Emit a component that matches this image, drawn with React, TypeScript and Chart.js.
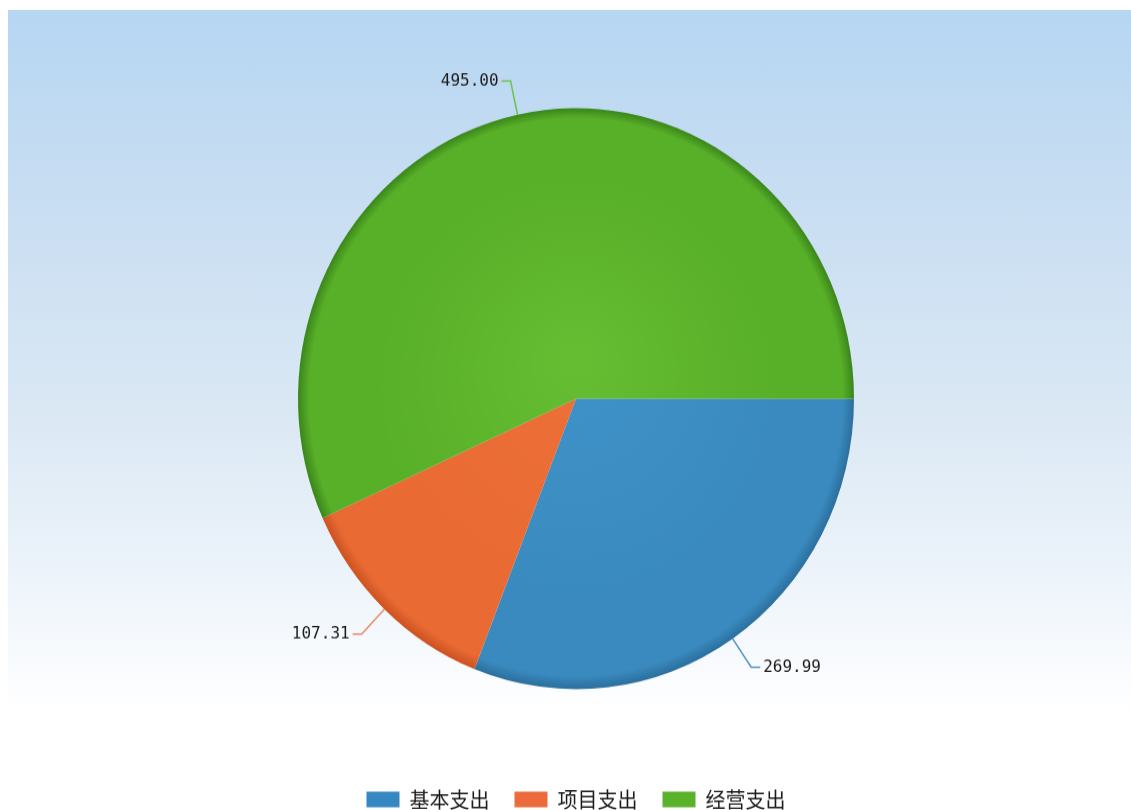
import React, { useEffect, useRef } from "react";
import { Chart, registerables } from "chart.js";

Chart.register(...registerables);

const categories = ["基本支出", "项目支出", "经营支出"];
const values = [269.99, 107.31, 495.0];
const valueLabels = ["269.99", "107.31", "495.00"];
const lightColors = ["#3f93c8", "#ee7039", "#66be33"];
const baseColors = ["#3a8abf", "#e96a33", "#58af28"];
const edgeColors = ["#2b6f9d", "#cc5220", "#3a861b"];
const legendColors = ["#3587c1", "#ec6b3a", "#5ab12a"];
const lineColors = ["#4f93bf", "#e98a66", "#6cc24a"];

const labelPlugin = {
  id: "sliceLabels",
  afterDatasetsDraw(chart: any) {
    const ctx = chart.ctx;
    const meta = chart.getDatasetMeta(0);
    ctx.save();
    meta.data.forEach((arc: any, i: number) => {
      const { x, y, startAngle, endAngle, outerRadius } = arc.getProps(
        ["x", "y", "startAngle", "endAngle", "outerRadius"],
        true
      );
      const mid = (startAngle + endAngle) / 2;
      const c = Math.cos(mid);
      const s = Math.sin(mid);
      const p0x = x + outerRadius * c;
      const p0y = y + outerRadius * s;
      const p1x = x + (outerRadius + 33) * c;
      const p1y = y + (outerRadius + 33) * s;
      const dir = c >= 0 ? 1 : -1;
      const p2x = p1x + dir * 9;
      ctx.strokeStyle = lineColors[i];
      ctx.lineWidth = 1.5;
      ctx.beginPath();
      ctx.moveTo(p0x, p0y);
      ctx.lineTo(p1x, p1y);
      ctx.lineTo(p2x, p1y);
      ctx.stroke();
      ctx.fillStyle = "#1a1a1a";
      ctx.font = "16px 'DejaVu Sans Mono', 'Liberation Mono', monospace";
      ctx.textBaseline = "middle";
      ctx.textAlign = dir > 0 ? "left" : "right";
      ctx.fillText(valueLabels[i], p2x + dir * 3, p1y);
    });
    ctx.restore();
  },
};

export default function App() {
  const canvasRef = useRef<HTMLCanvasElement | null>(null);

  useEffect(() => {
    if (!canvasRef.current) return;
    const chart = new Chart(canvasRef.current, {
      type: "pie",
      data: {
        labels: categories,
        datasets: [
          {
            data: values,
            borderWidth: 0,
            radius: 278,
            backgroundColor: (context: any) => {
              const i = context.dataIndex;
              const ch = context.chart;
              const area = ch.chartArea;
              if (!area || context.type !== "data") return baseColors[i];
              const cx = (area.left + area.right) / 2;
              const cy = (area.top + area.bottom) / 2;
              const r = 278;
              const g = ch.ctx.createRadialGradient(cx, cy - 40, 0, cx, cy, r);
              g.addColorStop(0, lightColors[i]);
              g.addColorStop(0.75, baseColors[i]);
              g.addColorStop(0.96, baseColors[i]);
              g.addColorStop(1, edgeColors[i]);
              return g;
            },
          },
        ],
      },
      options: {
        responsive: false,
        animation: false,
        rotation: 90,
        layout: { padding: { top: 33, bottom: 0, left: 21, right: 0 } },
        plugins: {
          legend: {
            position: "bottom",
            labels: {
              boxWidth: 33,
              boxHeight: 15,
              padding: 25,
              color: "#1a1a1a",
              font: { size: 20, family: "'Noto Sans CJK SC', sans-serif" },
              generateLabels: (ch: any) =>
                categories.map((text, i) => ({
                  text,
                  fillStyle: legendColors[i],
                  strokeStyle: legendColors[i],
                  lineWidth: 0,
                  hidden: false,
                  index: i,
                  fontColor: "#1a1a1a",
                })),
            },
          },
          tooltip: { enabled: false },
        },
      },
      plugins: [labelPlugin],
    });
    return () => chart.destroy();
  }, []);

  return (
    <div
      style={{
        position: "fixed",
        left: 0,
        top: 0,
        width: 1131,
        height: 810,
        overflow: "hidden",
        background: "#ffffff",
      }}
    >
      <div
        style={{
          position: "absolute",
          left: 8,
          top: 10,
          right: 0,
          bottom: 0,
          background:
            "linear-gradient(to bottom, #b6d6f2 0%, #c9def2 25%, #dae8f4 50%, #ecf3fa 70%, #ffffff 88%, #ffffff 100%)",
        }}
      />
      <canvas
        ref={canvasRef}
        width={1131}
        height={785}
        style={{
          position: "absolute",
          left: 0,
          top: 0,
          width: 1131,
          height: 785,
          transform: "scale(1, 1.045)",
          transformOrigin: "0 0",
        }}
      />
    </div>
  );
}
